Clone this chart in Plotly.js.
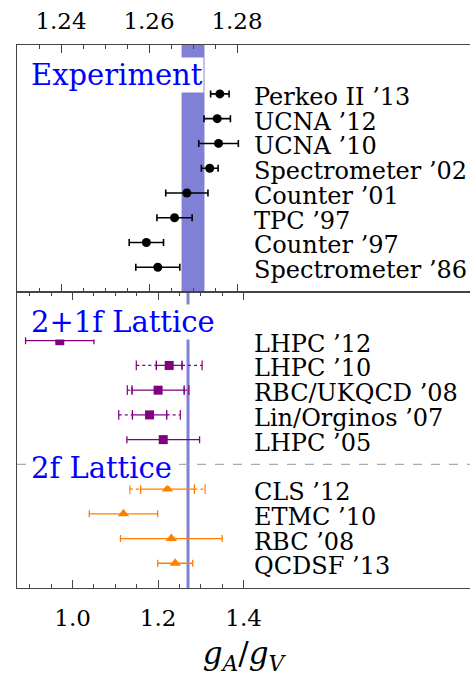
<!DOCTYPE html>
<html>
<head>
<meta charset="utf-8">
<script src="https://cdn.plot.ly/plotly-3.0.1.min.js"></script>
<style>html,body{margin:0;padding:0;background:#fff;}#chart{width:470px;height:676px;}</style>
</head>
<body>
<div id="chart"></div>
<script>
// ---------- data ----------
const pdgValue = 1.2700;
const pdgError = 0.0026;

const expLabels = ["Perkeo II ’13","UCNA ’12","UCNA ’10","Spectrometer ’02","Counter ’01","TPC ’97","Counter ’97","Spectrometer ’86"];
const expValues = [1.2761, 1.2755, 1.2758, 1.2738, 1.2686, 1.2658, 1.2594, 1.2620];
const expErrors = [0.0021, 0.0030, 0.0045, 0.0019, 0.0048, 0.0040, 0.0039, 0.0050];
const expRows   = [8, 7, 6, 5, 4, 3, 2, 1];

const lat21Labels = ["LHPC ’12","LHPC ’10","RBC/UKQCD ’08","Lin/Orginos ’07","LHPC ’05"];
const lat21Values = [0.970, 1.226, 1.200, 1.180, 1.212];
const lat21Stat   = [0.080, 0.030, 0.061, 0.040, 0.085];
const lat21Total  = [null, 0.077, 0.072, 0.072, null];
const lat21Rows   = [10, 9, 8, 7, 6];

const lat2Labels = ["CLS ’12","ETMC ’10","RBC ’08","QCDSF ’13"];
const lat2Values = [1.222, 1.119, 1.231, 1.240];
const lat2Stat   = [0.063, 0.080, 0.119, 0.041];
const lat2Total  = [0.088, null, null, null];
const lat2Rows   = [4, 3, 2, 1];

const separatorRow = 5;

const topTickVals = [1.24, 1.26, 1.28];
const topTickText = ["1.24", "1.26", "1.28"];
const topMinorVals = [1.235, 1.245, 1.25, 1.255, 1.265, 1.27, 1.275];
const botTickVals = [1.0, 1.2, 1.4];
const botTickText = ["1.0", "1.2", "1.4"];
const botMinorVals = [0.9, 0.95, 1.05, 1.1, 1.15, 1.25, 1.3, 1.35];

// ---------- styles ----------
const FONT = "DejaVu Serif";
const PURPLE = "#800080";
const ORANGE = "#ff8000";
const BAND = "#8080d6";

function outerSegments(values, stat, total, rows) {
  const xs = [], ys = [];
  values.forEach((v, i) => {
    if (total[i] == null) return;
    xs.push(v - total[i], v - stat[i], null, v + stat[i], v + total[i], null);
    ys.push(rows[i], rows[i], null, rows[i], rows[i], null);
  });
  return {xs, ys};
}

const o21 = outerSegments(lat21Values, lat21Stat, lat21Total, lat21Rows);
const o2 = outerSegments(lat2Values, lat2Stat, lat2Total, lat2Rows);

const traces = [
  {
    x: expValues, y: expRows, xaxis: "x", yaxis: "y", type: "scatter", mode: "markers",
    marker: {symbol: "circle", size: 9, color: "#000"},
    error_x: {type: "data", array: expErrors, visible: true, color: "#000", thickness: 1.6, width: 3.5},
    hoverinfo: "skip", showlegend: false
  },
  {
    x: o21.xs, y: o21.ys, xaxis: "x2", yaxis: "y2", type: "scatter", mode: "lines+markers",
    line: {color: PURPLE, width: 1.2, dash: "dot"},
    marker: {symbol: "line-ns", size: 7, line: {color: PURPLE, width: 1.2}},
    hoverinfo: "skip", showlegend: false, connectgaps: false
  },
  {
    x: lat21Values, y: lat21Rows, xaxis: "x2", yaxis: "y2", type: "scatter", mode: "markers",
    marker: {symbol: "square", size: 9, color: PURPLE},
    error_x: {type: "data", array: lat21Stat, visible: true, color: PURPLE, thickness: 1.3, width: 3.5},
    hoverinfo: "skip", showlegend: false
  },
  {
    x: o2.xs, y: o2.ys, xaxis: "x2", yaxis: "y2", type: "scatter", mode: "lines+markers",
    line: {color: ORANGE, width: 1.2, dash: "dot"},
    marker: {symbol: "line-ns", size: 7, line: {color: ORANGE, width: 1.2}},
    hoverinfo: "skip", showlegend: false, connectgaps: false
  },
  {
    x: lat2Values, y: lat2Rows, xaxis: "x2", yaxis: "y2", type: "scatter", mode: "markers",
    marker: {symbol: "triangle-up", size: 10, color: ORANGE},
    error_x: {type: "data", array: lat2Stat, visible: true, color: ORANGE, thickness: 1.3, width: 3.5},
    hoverinfo: "skip", showlegend: false
  }
];

const labelX = 0.518;
const annotations = [];
function addLabels(labels, rows, yref) {
  labels.forEach((t, i) => annotations.push({
    text: t, xref: yref === "y" ? "x domain" : "x2 domain", yref: yref,
    x: labelX, y: rows[i], xanchor: "left", yanchor: "middle", showarrow: false,
    yshift: -3, font: {family: FONT, size: 24, color: "#000"}
  }));
}
addLabels(expLabels, expRows, "y");
addLabels(lat21Labels, lat21Rows, "y2");
addLabels(lat2Labels, lat2Rows, "y2");

const sections = [
  {text: "Experiment", xref: "x domain", yref: "y", y: 8.76},
  {text: "2+1f Lattice", xref: "x2 domain", yref: "y2", y: 10.77},
  {text: "2f Lattice", xref: "x2 domain", yref: "y2", y: 4.86}
];
sections.forEach(s => annotations.push({
  text: s.text, xref: s.xref, yref: s.yref, x: 0.029, y: s.y,
  xanchor: "left", yanchor: "middle", showarrow: false, bgcolor: "#fff", borderpad: 0,
  font: {family: FONT, size: 29, color: "#0000ff"}
}));

const axisCommon = {
  showgrid: false, zeroline: false, showline: true, linecolor: "#444", linewidth: 1.2,
  ticks: "inside", ticklen: 8, tickwidth: 1, tickcolor: "#444", mirror: "ticks",
  tickfont: {family: FONT, size: 23, color: "#000"}, ticklabelstandoff: 6
};

const layout = {
  width: 470, height: 676,
  margin: {l: 17, r: 0, t: 45, b: 88},
  paper_bgcolor: "#fff", plot_bgcolor: "#fff",
  font: {family: FONT, color: "#000"},
  showlegend: false,
  xaxis: Object.assign({}, axisCommon, {
    anchor: "y", side: "top", range: [1.23, 1.33295],
    tickmode: "array", tickvals: topTickVals, ticktext: topTickText,
    minor: {tickmode: "array", tickvals: topMinorVals, ticks: "inside", ticklen: 4, tickcolor: "#444", showgrid: false}
  }),
  yaxis: {
    domain: [0.5451, 1], anchor: "x", range: [0, 9.975],
    showgrid: false, zeroline: false, showticklabels: false, ticks: "",
    showline: true, linecolor: "#444", linewidth: 1.2, mirror: false
  },
  xaxis2: Object.assign({}, axisCommon, {
    anchor: "y2", side: "bottom", range: [0.87, 1.9295],
    tickmode: "array", tickvals: botTickVals, ticktext: botTickText, ticklabelstandoff: 9,
    minor: {tickmode: "array", tickvals: botMinorVals, ticks: "inside", ticklen: 4, tickcolor: "#444", showgrid: false},
    title: {text: "<i>g</i><sub><i>A</i></sub>/<i>g</i><sub><i>V</i></sub>", font: {family: FONT, size: 31, color: "#000"}, standoff: 14}
  }),
  yaxis2: {
    domain: [0, 0.5451], anchor: "x2", range: [0, 11.97],
    showgrid: false, zeroline: false, showticklabels: false, ticks: "",
    showline: true, linecolor: "#444", linewidth: 1.2, mirror: false
  },
  shapes: [
    {type: "rect", xref: "x", yref: "y domain", x0: pdgValue - pdgError, x1: pdgValue + pdgError, y0: 0, y1: 1,
     fillcolor: BAND, line: {width: 0}, layer: "below"},
    {type: "line", xref: "x2", yref: "y2 domain", x0: pdgValue, x1: pdgValue, y0: 0, y1: 1,
     line: {color: BAND, width: 3}, layer: "below"},
    {type: "line", xref: "x2 domain", yref: "y2", x0: 0, x1: 1, y0: separatorRow, y1: separatorRow,
     line: {color: "#aaaaaa", width: 1.4, dash: "dash"}, layer: "below"}
  ],
  annotations: annotations
};

Plotly.newPlot("chart", traces, layout, {staticPlot: true, displayModeBar: false});
</script>
</body>
</html>
